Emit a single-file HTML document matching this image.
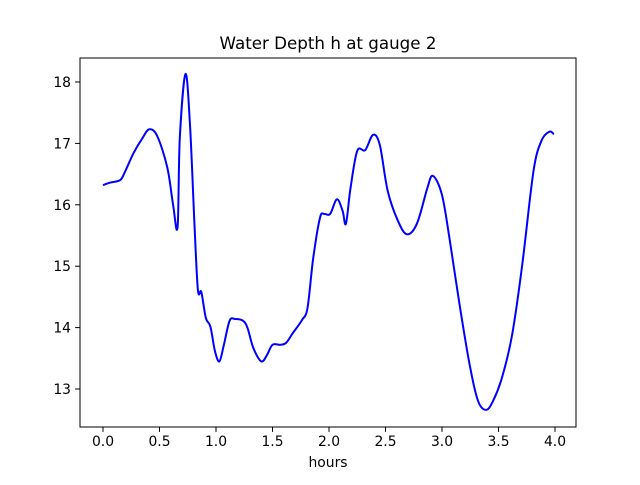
<!DOCTYPE html>
<html><head><meta charset="utf-8"><style>
body{margin:0;background:#fff;}
svg text{font-family:"DejaVu Sans","Liberation Sans",sans-serif;fill:#000;}
</style></head><body>
<svg id="chart" width="640" height="480" xmlns="http://www.w3.org/2000/svg">
<rect width="640" height="480" fill="#fff"/>
<g id="plot"></g>
</svg>
<script>
const hours=[0,0.06,0.15,0.19,0.27,0.35,0.41,0.48,0.57,0.62,0.66,0.68,0.73,0.77,0.81,0.84,0.87,0.91,0.95,0.99,1.03,1.07,1.12,1.17,1.24,1.28,1.33,1.40,1.45,1.50,1.57,1.62,1.68,1.76,1.81,1.86,1.92,1.96,2.01,2.07,2.12,2.15,2.19,2.25,2.32,2.39,2.45,2.52,2.61,2.69,2.78,2.87,2.92,3.00,3.07,3.16,3.25,3.32,3.39,3.45,3.53,3.62,3.71,3.81,3.88,3.95,3.99];
const depth=[16.32,16.36,16.40,16.52,16.84,17.09,17.23,17.12,16.60,16.00,15.64,17.09,18.13,17.30,15.67,14.61,14.58,14.16,14.02,13.62,13.45,13.72,14.11,14.14,14.11,13.99,13.67,13.45,13.55,13.72,13.72,13.75,13.91,14.12,14.32,15.13,15.79,15.85,15.85,16.09,15.90,15.69,16.27,16.88,16.89,17.14,16.97,16.22,15.74,15.52,15.70,16.27,16.47,16.16,15.41,14.32,13.34,12.80,12.66,12.80,13.18,13.88,15.02,16.55,17.04,17.19,17.15];
const xTicks=[0,0.5,1,1.5,2,2.5,3,3.5,4];
const xTickLabels=["0.0","0.5","1.0","1.5","2.0","2.5","3.0","3.5","4.0"];
const yTicks=[13,14,15,16,17,18];
const yTickLabels=["13","14","15","16","17","18"];
const L=80,R=576,T=58,B=427;
const xs=h=>103+h*113;
const ys=v=>82+(18-v)*61.4;
const NS="http://www.w3.org/2000/svg";
const g=document.getElementById('plot');
function mk(t,a){const e=document.createElementNS(NS,t);for(const k in a)e.setAttribute(k,a[k]);g.appendChild(e);return e;}
const P=hours.map((h,i)=>[xs(h),ys(depth[i])]);
let d='M'+P[0][0].toFixed(1)+','+P[0][1].toFixed(1);
for(let i=0;i<P.length-1;i++){
 const p0=P[Math.max(0,i-1)],p1=P[i],p2=P[i+1],p3=P[Math.min(P.length-1,i+2)];
 const c1=[p1[0]+(p2[0]-p0[0])/6,p1[1]+(p2[1]-p0[1])/6];
 const c2=[p2[0]-(p3[0]-p1[0])/6,p2[1]-(p3[1]-p1[1])/6];
 d+=' C'+c1[0].toFixed(1)+','+c1[1].toFixed(1)+' '+c2[0].toFixed(1)+','+c2[1].toFixed(1)+' '+p2[0].toFixed(1)+','+p2[1].toFixed(1);
}
const line=mk('path',{d:d,fill:'none',stroke:'#0000ff','stroke-width':2,'stroke-linejoin':'round'});


const frame=mk('rect',{x:L,y:T,width:R-L,height:B-T,fill:'none',stroke:'#000','stroke-width':1});


xTicks.forEach((v,i)=>{const x=xs(v);
 const t=mk('line',{x1:x,x2:x,y1:B,y2:B+4.9,stroke:'#000'});
 
 
 const l=mk('text',{x:x,y:B+19,'font-size':13.9,'text-anchor':'middle'});l.textContent=xTickLabels[i];
 
 });
yTicks.forEach((v,i)=>{const y=ys(v);
 const t=mk('line',{x1:L-4.9,x2:L,y1:y,y2:y,stroke:'#000'});
 
 
 const l=mk('text',{x:L-9,y:y+5,'font-size':13.9,'text-anchor':'end'});l.textContent=yTickLabels[i];
 
 });
const ti=mk('text',{x:328,y:49,'font-size':16.7,'text-anchor':'middle'});ti.textContent='Water Depth h at gauge 2';


const xl=mk('text',{x:328,y:467,'font-size':13.9,'text-anchor':'middle'});xl.textContent='hours';


</script>
</body></html>
